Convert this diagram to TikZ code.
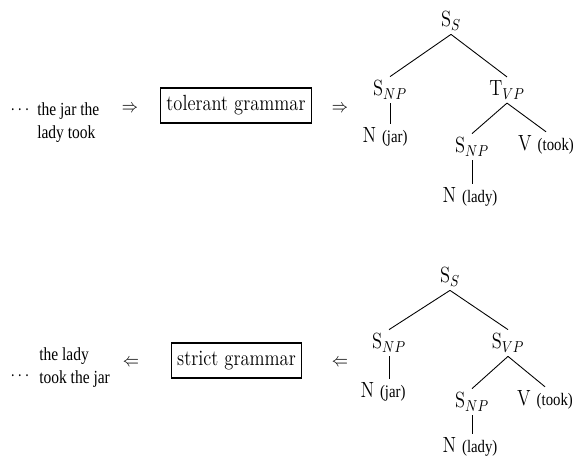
\documentclass[tikz,border=0pt]{standalone}
\usepackage{fontspec}
\usepackage{tikz}
\usetikzlibrary{positioning}
\newfontfamily\wordfont{Liberation Serif}
\newcommand{\wordtxt}[1]{{\wordfont\fontsize{10}{12}\selectfont #1}}

\tikzset{
  cat/.style={font=\fontsize{12.5}{15}\selectfont, xscale=0.84, inner sep=2pt},
  gram/.style={draw, line width=0.8pt, font=\fontsize{12.5}{15}\selectfont,
    xscale=0.84, minimum height=0.7cm, inner xsep=4pt},
  phrase/.style={font=\wordfont\fontsize{10.5}{13}\selectfont, xscale=0.84,
    align=left, inner sep=0pt, anchor=north west},
  implies/.style={font=\fontsize{11}{13}\selectfont, xscale=0.84},
  branch/.style={line width=0.5pt}
}

\begin{document}
\begin{tikzpicture}
        \useasboundingbox (0,0) rectangle (11.52,-9.18);

        % upper row: sentence to tree
        \node[implies, anchor=base] (dotsa) at (0.40,-2.28) {$\cdots$};
        \node[phrase] (sentencea) at (0.74,-2.04) {the jar the\\lady took};
        \node[implies] (toa) at (2.60,-2.18) {$\Rightarrow$};
        \node[gram] (tolerant) at (4.72,-2.11) {tolerant grammar};
        \node[implies] (tob) at (6.80,-2.18) {$\Rightarrow$};

        \node[cat] (ssa) at (9.02,-0.42) {S$_S$};
        \node[cat] (snpa) at (7.80,-1.80) {S$_{NP}$};
        \node[cat] (tvp) at (10.14,-1.80) {T$_{VP}$};
        \node[cat] (nja) at (7.70,-2.74) {N \wordtxt{(jar)}};
        \node[cat] (snpb) at (9.44,-2.94) {S$_{NP}$};
        \node[cat] (vta) at (10.92,-2.90) {V \wordtxt{(took)}};
        \node[cat] (nla) at (9.40,-3.94) {N \wordtxt{(lady)}};

        \draw[branch] (ssa.south) -- (snpa.north);
        \draw[branch] (ssa.south) -- (tvp.north);
        \draw[branch] (snpa.south) -- (snpa.south |- nja.north);
        \draw[branch] (tvp.south) -- (snpb.north);
        \draw[branch] (tvp.south) -- (vta.north);
        \draw[branch] (snpb.south) -- (snpb.south |- nla.north);

        % lower row: tree to sentence
        \node[implies, anchor=base] (dotsb) at (0.40,-7.61) {$\cdots$};
        \node[phrase] (sentenceb) at (0.78,-6.94) {the lady\\took the jar};
        \node[implies] (froma) at (2.62,-7.26) {$\Leftarrow$};
        \node[gram] (strict) at (4.73,-7.21) {strict grammar};
        \node[implies] (fromb) at (6.80,-7.26) {$\Leftarrow$};

        \node[cat] (ssb) at (9.00,-5.54) {S$_S$};
        \node[cat] (snpc) at (7.78,-6.86) {S$_{NP}$};
        \node[cat] (svp) at (10.16,-6.86) {S$_{VP}$};
        \node[cat] (njb) at (7.66,-7.84) {N \wordtxt{(jar)}};
        \node[cat] (snpd) at (9.44,-8.04) {S$_{NP}$};
        \node[cat] (vtb) at (10.90,-8.00) {V \wordtxt{(took)}};
        \node[cat] (nlb) at (9.40,-8.94) {N \wordtxt{(lady)}};

        \draw[branch] (ssb.south) -- (snpc.north);
        \draw[branch] (ssb.south) -- (svp.north);
        \draw[branch] (snpc.south) -- (snpc.south |- njb.north);
        \draw[branch] (svp.south) -- (snpd.north);
        \draw[branch] (svp.south) -- (vtb.north);
        \draw[branch] (snpd.south) -- (snpd.south |- nlb.north);
      \end{tikzpicture}
\end{document}
